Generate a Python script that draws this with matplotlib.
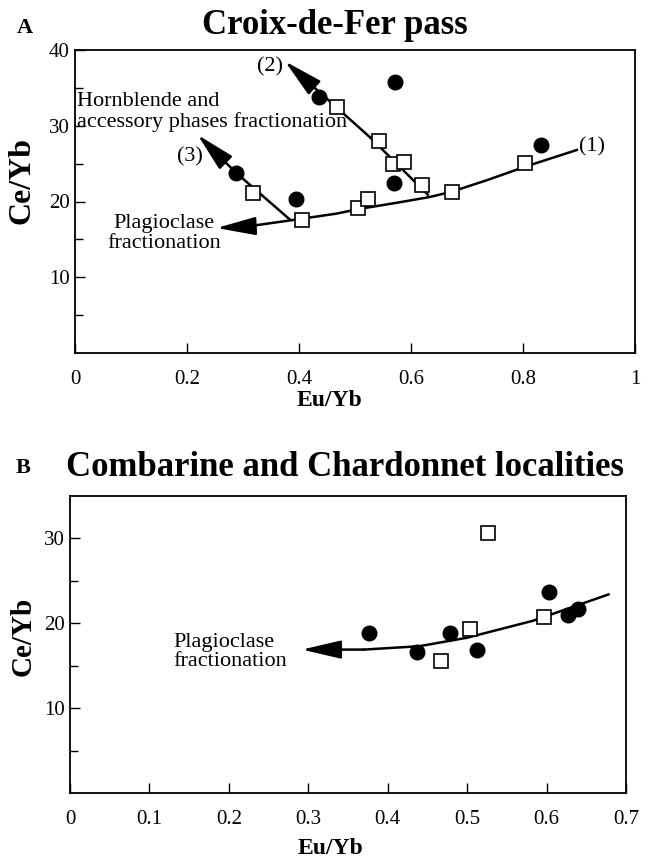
import matplotlib
matplotlib.use("Agg")
import matplotlib.pyplot as plt

plt.rcParams['font.family'] = ['Liberation Serif', 'DejaVu Serif']

# ---- panel A : Croix-de-Fer pass ----
a_circ_x = [0.287, 0.394, 0.435, 0.571, 0.570, 0.832]
a_circ_y = [23.8, 20.3, 33.8, 35.8, 22.4, 27.4]
a_sq_x = [0.317, 0.405, 0.468, 0.506, 0.523, 0.543, 0.567, 0.588, 0.619, 0.673, 0.804]
a_sq_y = [21.1, 17.6, 32.5, 19.1, 20.3, 28.0, 24.9, 25.2, 22.2, 21.2, 25.1]
# trend (1): plagioclase, arrow tip first
a_t1_x = [0.253, 0.307, 0.384, 0.467, 0.506, 0.580, 0.634, 0.673, 0.735, 0.804, 0.896]
a_t1_y = [16.5, 16.7, 17.5, 18.4, 19.0, 19.9, 20.6, 21.3, 22.8, 24.6, 26.8]
# trend (2), arrow tip last
a_t2_x = [0.630, 0.528, 0.375]
a_t2_y = [20.9, 28.4, 38.5]
# trend (3), arrow tip last
a_t3_x = [0.384, 0.2875, 0.219]
a_t3_y = [17.6, 23.8, 28.8]
a_xticks = [0, 0.2, 0.4, 0.6, 0.8, 1]
a_xlabels = ["0", "0.2", "0.4", "0.6", "0.8", "1"]
a_yticks = [10, 20, 30, 40]

# ---- panel B : Combarine and Chardonnet ----
b_circ_x = [0.377, 0.437, 0.478, 0.513, 0.603, 0.627, 0.640]
b_circ_y = [18.8, 16.6, 18.9, 16.8, 23.7, 21.0, 21.7]
b_sq_x = [0.467, 0.503, 0.526, 0.597]
b_sq_y = [15.6, 19.3, 30.6, 20.7]
b_t_x = [0.292, 0.370, 0.440, 0.500, 0.583, 0.678]
b_t_y = [16.9, 16.9, 17.3, 18.3, 20.3, 23.4]
b_xticks = [0, 0.1, 0.2, 0.3, 0.4, 0.5, 0.6, 0.7]
b_xlabels = ["0", "0.1", "0.2", "0.3", "0.4", "0.5", "0.6", "0.7"]
b_yticks = [10, 20, 30]

W, H = 658, 864
fig = plt.figure(figsize=(W / 100, H / 100), dpi=100)

def arrow(ax, x0, y0, x1, y1):
	ax.annotate("", xy=(x1, y1), xytext=(x0, y0),
		arrowprops=dict(arrowstyle="-|>,head_length=1.2,head_width=0.28",
			color="black", lw=1.8, mutation_scale=20, shrinkA=0, shrinkB=0))

def style(ax, xticks, xlabels, yticks, minor):
	for s in ax.spines.values():
		s.set_linewidth(1.3)
	ax.set_xticks(xticks)
	ax.set_xticklabels(xlabels)
	ax.set_yticks(yticks)
	ax.set_yticks(minor, minor=True)
	ax.tick_params(which="both", direction="in", top=False, right=False,
		labelsize=15, width=1)
	ax.tick_params(axis="x", length=7, pad=12)
	ax.tick_params(axis="y", which="major", length=7, pad=4)
	ax.tick_params(axis="y", which="minor", length=6)

def points(ax, cx, cy, sx, sy):
	ax.plot(cx, cy, "o", color="black", ms=10.5, zorder=4)
	ax.plot(sx, sy, "s", mfc="white", mec="black", mew=1.2, ms=10.5, zorder=5)

# panel A
ax = fig.add_axes([75 / W, 1 - 353 / H, 560 / W, 303 / H])
ax.set_xlim(0, 1)
ax.set_ylim(0, 40)
ax.plot(a_t1_x[1:], a_t1_y[1:], color="black", lw=1.8, zorder=3)
arrow(ax, a_t1_x[1], a_t1_y[1], a_t1_x[0], a_t1_y[0])
ax.plot(a_t2_x[:-1], a_t2_y[:-1], color="black", lw=1.8, zorder=3)
arrow(ax, a_t2_x[-2], a_t2_y[-2], a_t2_x[-1], a_t2_y[-1])
ax.plot(a_t3_x[:-1], a_t3_y[:-1], color="black", lw=1.8, zorder=3)
arrow(ax, a_t3_x[-2], a_t3_y[-2], a_t3_x[-1], a_t3_y[-1])
points(ax, a_circ_x, a_circ_y, a_sq_x, a_sq_y)
ax.text(0.90, 27.2, "(1)", fontsize=16, va="center", ha="left")
ax.text(0.348, 37.8, "(2)", fontsize=16, va="center", ha="center")
ax.text(0.205, 25.9, "(3)", fontsize=16, va="center", ha="center")
ax.text(0.004, 31.85, "Hornblende and\naccessory phases fractionation",
	fontsize=16, va="center", ha="left", linespacing=1.05)
ax.text(0.159, 15.8, "Plagioclase\nfractionation", fontsize=16,
	va="center", ha="center", multialignment="center", linespacing=1.05)
style(ax, a_xticks, a_xlabels, a_yticks, [5, 15, 25, 35])
ax.set_xlabel("Eu/Yb", fontsize=17, fontweight="bold")
ax.xaxis.set_label_coords(0.455, -0.122)
ax.set_ylabel("Ce/Yb", fontsize=23, fontweight="bold")
ax.yaxis.set_label_coords(-0.068, 0.57)

# panel B
bx = fig.add_axes([70 / W, 1 - 793 / H, 556 / W, 297 / H])
bx.set_xlim(0, 0.7)
bx.set_ylim(0, 35)
bx.plot(b_t_x[1:], b_t_y[1:], color="black", lw=1.8, zorder=3)
arrow(bx, b_t_x[1], b_t_y[1], b_t_x[0], b_t_y[0])
points(bx, b_circ_x, b_circ_y, b_sq_x, b_sq_y)
bx.text(0.130, 16.6, "Plagioclase\nfractionation", fontsize=16,
	va="center", ha="left", linespacing=1.05)
style(bx, b_xticks, b_xlabels, b_yticks, [5, 15, 25])
bx.set_xlabel("Eu/Yb", fontsize=17, fontweight="bold")
bx.xaxis.set_label_coords(0.468, -0.152)
bx.set_ylabel("Ce/Yb", fontsize=21, fontweight="bold")
bx.yaxis.set_label_coords(-0.060, 0.529)

# titles and panel letters
fig.text(335 / W, 1 - 25 / H, "Croix-de-Fer pass", fontsize=25,
	fontweight="bold", ha="center", va="center")
fig.text(25 / W, 1 - 28 / H, "A", fontsize=16, fontweight="bold",
	ha="center", va="center")
fig.text(345 / W, 1 - 468 / H, "Combarine and Chardonnet localities",
	fontsize=25, fontweight="bold", ha="center", va="center")
fig.text(23 / W, 1 - 468 / H, "B", fontsize=16, fontweight="bold",
	ha="center", va="center")

fig.savefig("out.png", dpi=100)
plt.close()
